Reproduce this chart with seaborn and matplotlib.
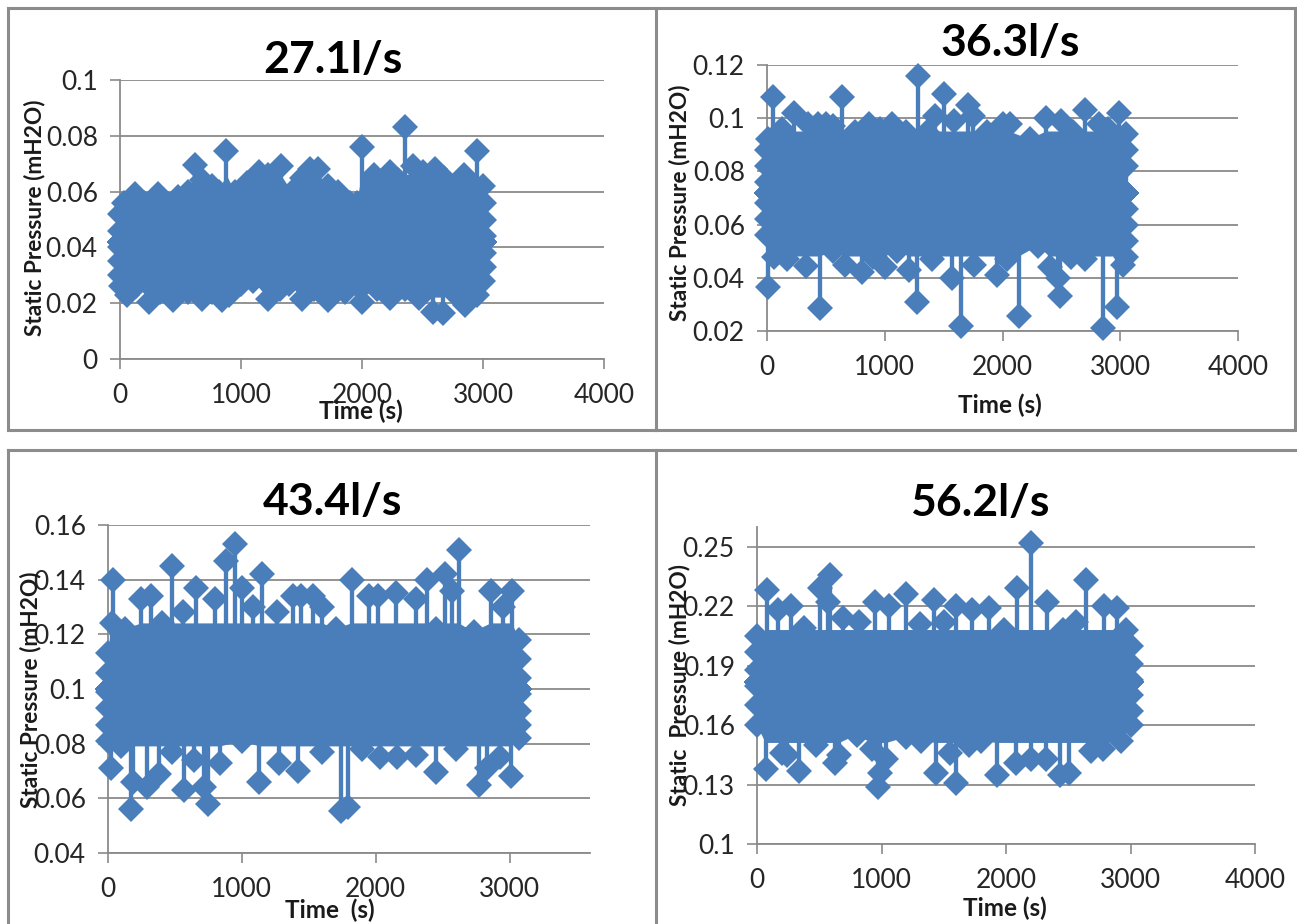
import matplotlib
matplotlib.use("Agg")
import matplotlib.pyplot as plt
from matplotlib.lines import Line2D
import pandas as pd
import seaborn as sns

W, H = 1297, 924
BLUE = "#4A7EBB"
GREY = "#8A8A8A"
FONT = "Lato"

# ---------- data ----------
titles = ["27.1l/s", "36.3l/s", "43.4l/s", "56.2l/s"]
xlabels = ["Time (s)", "Time (s)", "Time  (s)", "Time (s)"]
ylabels = ["Static Pressure (mH2O)", "Static Pressure (mH2O)", "Static Pressure (mH2O)", "Static  Pressure (mH2O)"]

xticks_a = [0, 1000, 2000, 3000, 4000]
xticks_c = [0, 1000, 2000, 3000]
yticks_a = [0, 0.02, 0.04, 0.06, 0.08, 0.1]
yticks_b = [0.02, 0.04, 0.06, 0.08, 0.1, 0.12]
yticks_c = [0.04, 0.06, 0.08, 0.1, 0.12, 0.14, 0.16]
yticks_d = [0.1, 0.13, 0.16, 0.19, 0.22, 0.25]

# panel A: upper edge and lower edge of the dense series
ta_hi = [0, 0, 0, 30, 120, 200, 310, 400, 480, 560, 620, 680, 760, 820, 880, 950, 1050, 1150, 1220, 1330, 1420, 1500, 1570, 1640, 1720, 1800, 1900, 1960, 2000, 2100, 2230, 2300, 2355, 2420, 2500, 2600, 2680, 2760, 2840, 2900, 2950, 3000, 3010, 3010, 3010]
pa_hi = [.040, .046, .052, .056, .059, .056, .059, .055, .058, .060, .0695, .064, .062, .060, .0745, .060, .063, .067, .066, .069, .060, .065, .068, .068, .062, .060, .056, .056, .076, .066, .067, .064, .083, .069, .067, .068, .065, .062, .066, .062, .0745, .062, .056, .050, .044]
ta_lo = [0, 0, 5, 60, 130, 240, 330, 440, 560, 680, 760, 840, 900, 1000, 1100, 1220, 1320, 1400, 1500, 1600, 1720, 1860, 1950, 2000, 2120, 2230, 2355, 2470, 2590, 2670, 2750, 2850, 2950, 3000, 3010, 3010]
pa_lo = [.030, .035, .026, .023, .026, .0205, .024, .021, .024, .0215, .024, .021, .023, .027, .028, .0215, .025, .027, .0215, .025, .021, .024, .027, .0205, .025, .022, .025, .022, .017, .0165, .024, .0195, .023, .028, .033, .038]

# panel B
tb_hi = [0, 0, 0, 10, 50, 130, 230, 350, 430, 500, 560, 640, 750, 870, 960, 1060, 1180, 1280, 1360, 1430, 1500, 1590, 1710, 1750, 1870, 2000, 2060, 2230, 2370, 2500, 2600, 2700, 2820, 2900, 2990, 3045, 3045, 3045]
pb_hi = [.076, .082, .088, .092, .108, .096, .102, .098, .098, .098, .097, .108, .095, .098, .096, .098, .095, .116, .095, .101, .109, .099, .105, .101, .095, .098, .098, .092, .100, .099, .095, .103, .098, .096, .102, .094, .088, .082]
tb_lo = [0, 0, 0, 5, 60, 170, 330, 450, 560, 660, 810, 900, 1000, 1100, 1210, 1270, 1400, 1570, 1650, 1760, 1950, 2040, 2140, 2300, 2400, 2470, 2490, 2580, 2700, 2850, 2970, 3020, 3045, 3045, 3045, 3045]
pb_lo = [.068, .062, .056, .0365, .048, .047, .0445, .0285, .050, .045, .042, .048, .044, .050, .043, .031, .047, .040, .022, .045, .041, .047, .0255, .052, .044, .040, .033, .048, .047, .021, .029, .045, .048, .054, .060, .066]

# panel C
tc_hi = [0, 0, 0, 30, 35, 130, 250, 320, 400, 480, 560, 660, 800, 880, 950, 1000, 1080, 1150, 1260, 1380, 1440, 1530, 1600, 1700, 1820, 1950, 2020, 2150, 2300, 2380, 2450, 2520, 2570, 2620, 2730, 2860, 2950, 3020, 3070, 3070, 3070]
pc_hi = [.099, .106, .113, .124, .140, .122, .133, .134, .124, .145, .128, .137, .133, .147, .153, .137, .130, .142, .128, .134, .134, .134, .130, .122, .140, .134, .134, .135, .133, .140, .122, .142, .136, .151, .121, .136, .130, .136, .118, .111, .104]
tc_lo = [0, 0, 0, 20, 100, 170, 190, 290, 380, 480, 570, 640, 720, 750, 840, 1000, 1130, 1280, 1420, 1600, 1740, 1790, 1900, 2030, 2160, 2300, 2450, 2600, 2770, 2830, 2930, 3010, 3070, 3070, 3070, 3070]
pc_lo = [.093, .087, .081, .071, .079, .056, .066, .064, .069, .077, .063, .074, .064, .058, .073, .081, .066, .073, .070, .077, .0555, .057, .078, .075, .075, .076, .0695, .078, .065, .071, .075, .068, .082, .087, .092, .098]

# panel D
td_hi = [0, 0, 0, 80, 170, 270, 380, 510, 570, 590, 690, 820, 950, 1060, 1200, 1310, 1420, 1500, 1600, 1730, 1860, 1980, 2090, 2200, 2330, 2460, 2560, 2640, 2790, 2890, 2960, 3000, 3000, 3000]
pd_hi = [.188, .197, .205, .228, .218, .220, .209, .229, .222, .236, .214, .212, .222, .220, .226, .211, .223, .212, .220, .218, .219, .208, .229, .252, .222, .208, .212, .233, .220, .219, .208, .200, .191, .183]
td_lo = [0, 0, 0, 70, 200, 240, 340, 470, 630, 660, 800, 920, 970, 990, 1040, 1200, 1320, 1440, 1550, 1600, 1700, 1800, 1930, 2080, 2200, 2320, 2430, 2510, 2680, 2780, 2920, 3000, 3000, 3000]
pd_lo = [.180, .170, .160, .138, .146, .145, .137, .150, .141, .145, .155, .148, .129, .136, .143, .154, .152, .136, .146, .131, .150, .152, .135, .141, .143, .143, .135, .136, .147, .148, .152, .160, .167, .175]

series = [(ta_hi, pa_hi, ta_lo, pa_lo), (tb_hi, pb_hi, tb_lo, pb_lo),
          (tc_hi, pc_hi, tc_lo, pc_lo), (td_hi, pd_hi, td_lo, pd_lo)]

# level the dense trace oscillates around, and limits of its saturated core
mid_p = [.042, .072, .100, .182]
core_cap = [.066, .095, .124, .208]
core_floor = [.022, .048, .079, .151]

# ---------- layout in reference pixels ----------
# left, right, top, bottom of each plot area
boxes = [(120, 604, 80, 359), (767, 1238, 65, 331), (108, 590, 525, 853), (757, 1255, 527, 844)]
xlims = [(0, 4000), (0, 4000), (0, 3600), (0, 4000)]
ylims = [(0, .1), (.02, .12), (.04, .16), (.1, .26)]
xtick_sets = [xticks_a, xticks_a, xticks_c, xticks_a]
ytick_sets = [yticks_a, yticks_b, yticks_c, yticks_d]
title_xy = [(333, 60), (1010, 43), (332, 502), (980, 503)]
xlabel_xy = [(361, 411), (1000, 405), (330, 910), (1005, 908)]
ylabel_xy = [(35, 218), (679, 203), (31, 690), (680, 685)]

sns.set_theme(style="white")
plt.rcParams["font.family"] = [FONT, "DejaVu Sans"]
fig = plt.figure(figsize=(W / 100, H / 100), dpi=100, facecolor="white")


def fx(x):
    return x / W


def fy(y):
    return 1 - y / H


# panel frames
frames = [
    ((8, 8), (8, 430)), ((8, 430), (656, 430)), ((8, 8), (1295, 8)), ((656, 8), (656, 430)),
    ((1295, 8), (1295, 430)), ((656, 430), (1295, 430)),
    ((8, 450), (1297, 450)), ((8, 450), (8, 924)), ((656, 450), (656, 924)),
]
for (x0, y0), (x1, y1) in frames:
    fig.add_artist(Line2D([fx(x0), fx(x1)], [fy(y0), fy(y1)], color="#8C8C8C", lw=2.2, solid_capstyle="projecting"))

for i in range(4):
    l, r, t, b = boxes[i]
    ax = fig.add_axes([fx(l), fy(b), (r - l) / W, (b - t) / H])
    ax.set_facecolor("none")
    th, ph, tl, pl = series[i]
    # trace: from the mean level out to each extreme reading and back
    rows = []
    for a, v in sorted(list(zip(th, ph)) + list(zip(tl, pl))):
        rows.append((a, mid_p[i]))
        rows.append((a, v))
        rows.append((a, mid_p[i]))
    df = pd.DataFrame(rows, columns=["t", "p"])
    # saturated core where the overplotted trace is solid
    poly_t = list(th) + list(tl)[::-1]
    poly_p = [min(v, core_cap[i]) for v in ph] + [max(v, core_floor[i]) for v in pl][::-1]
    ax.fill(poly_t, poly_p, color=BLUE, lw=0, zorder=2.8, clip_on=False)
    sns.lineplot(data=df, x="t", y="p", sort=False, estimator=None, ax=ax, color=BLUE,
                 marker="D", markersize=13.5, markeredgewidth=0, linewidth=3,
                 clip_on=False, zorder=3)
    ax.set_xlim(*xlims[i])
    ax.set_ylim(*ylims[i])
    ax.set_xticks(xtick_sets[i])
    ax.set_yticks(ytick_sets[i])
    ax.set_xticklabels([f"{v}" for v in xtick_sets[i]])
    ax.set_yticklabels([f"{v:g}" for v in ytick_sets[i]])
    ax.set_xlabel("")
    ax.set_ylabel("")
    ax.grid(axis="y", color=GREY, lw=1.3)
    ax.grid(axis="x", visible=False)
    ax.set_axisbelow(True)
    for s in ("top", "right"):
        ax.spines[s].set_visible(False)
    for s in ("left", "bottom"):
        ax.spines[s].set_color(GREY)
        ax.spines[s].set_linewidth(1.3)
    ax.tick_params(axis="both", direction="out", length=7, width=1.2, color=GREY,
                   labelsize=19, labelcolor="#262626", left=True, bottom=True)
    ax.tick_params(axis="x", pad=10)
    ax.tick_params(axis="y", pad=9)

    fig.text(fx(title_xy[i][0]), fy(title_xy[i][1]), titles[i], ha="center", va="center",
             fontsize=32, fontweight="bold", color="black")
    fig.text(fx(xlabel_xy[i][0]), fy(xlabel_xy[i][1]), xlabels[i], ha="center", va="center",
             fontsize=17.5, fontweight="bold", color="#1a1a1a")
    fig.text(fx(ylabel_xy[i][0]), fy(ylabel_xy[i][1]), ylabels[i], ha="center", va="center",
             rotation=90, fontsize=16.3, fontweight="bold", color="#1a1a1a", zorder=10)

fig.savefig("out.png", dpi=100, facecolor="white")
